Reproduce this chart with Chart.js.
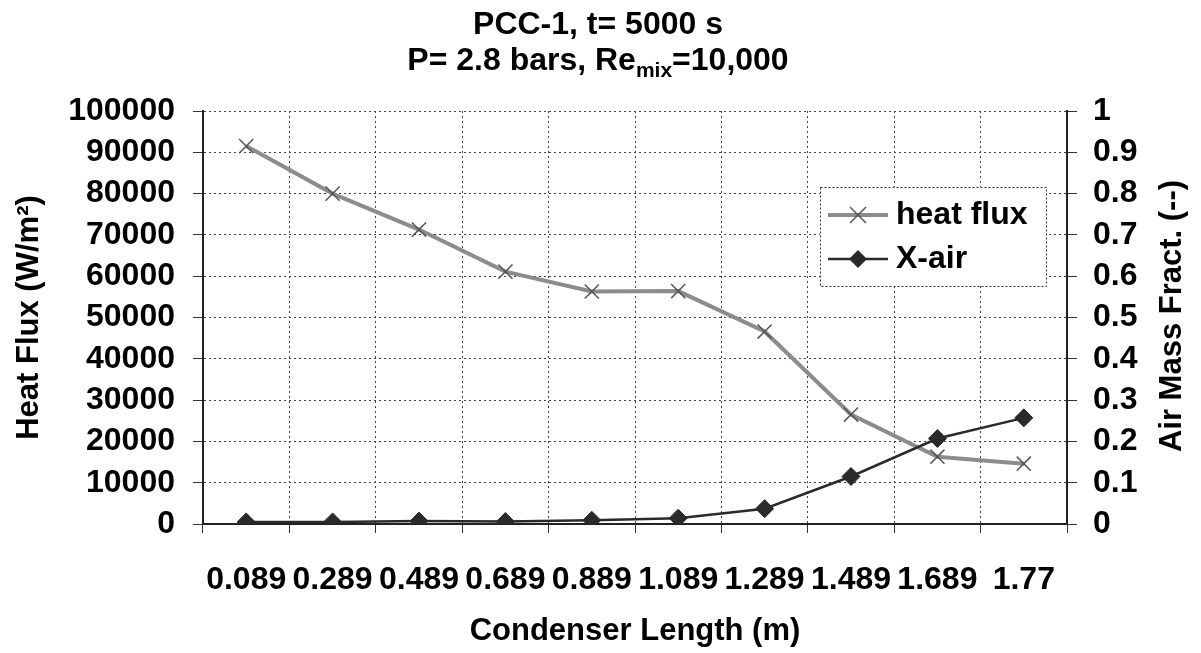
<!DOCTYPE html>
<html>
<head>
<meta charset="utf-8">
<script src="https://cdn.jsdelivr.net/npm/chart.js@4"></script>
<style>
  body { margin: 0; background: #fff; }
  #wrap { width: 1201px; height: 653px; position: relative; }
</style>
</head>
<body>
<div id="wrap"><canvas id="chart"></canvas></div>
<script>
// data
const lengths = ['0.089', '0.289', '0.489', '0.689', '0.889', '1.089', '1.289', '1.489', '1.689', '1.77'];
const heatFlux = [91500, 80000, 71300, 61100, 56300, 56400, 46600, 26500, 16300, 14600];
const xAir = [0.005, 0.005, 0.007, 0.006, 0.009, 0.014, 0.037, 0.115, 0.207, 0.257];

const titleLine1 = 'PCC-1, t= 5000 s';
const titleLine2 = ['P= 2.8 bars, Re', 'mix', '=10,000'];
const leftTitle = 'Heat Flux (W/m\u00b2)';
const rightTitle = 'Air Mass Fract. (--)';
const xTitle = 'Condenser Length (m)';

const FONT = '"Liberation Sans", Arial, sans-serif';
const FLUX_COLOR = '#8c8c8c';
const AIR_COLOR = '#2a2a2a';

// small helpers for the legend markers
function drawCross(ctx, x, y, r, color) {
    ctx.save();
    ctx.strokeStyle = color;
    ctx.lineWidth = 1.5;
    ctx.beginPath();
    ctx.moveTo(x - r, y - r); ctx.lineTo(x + r, y + r);
    ctx.moveTo(x + r, y - r); ctx.lineTo(x - r, y + r);
    ctx.stroke();
    ctx.restore();
}
function drawDiamond(ctx, x, y, r, color) {
    ctx.save();
    ctx.fillStyle = color;
    ctx.beginPath();
    ctx.moveTo(x, y - r); ctx.lineTo(x + r, y); ctx.lineTo(x, y + r); ctx.lineTo(x - r, y);
    ctx.closePath();
    ctx.fill();
    ctx.restore();
}

const extras = {
    id: 'extras',
    beforeDraw(chart) {
        const c = chart.ctx;
        c.save();
        c.fillStyle = '#fff';
        c.fillRect(0, 0, chart.width, chart.height);
        c.restore();
    },
    afterDraw(chart) {
        const c = chart.ctx;
        c.save();
        c.fillStyle = '#000';
        c.textBaseline = 'middle';

        // title, two lines, second one with subscript
        c.font = 'bold 32px ' + FONT;
        c.textAlign = 'center';
        c.fillText(titleLine1, 598, 25);

        const big = 'bold 32px ' + FONT, small = 'bold 21px ' + FONT;
        c.font = big; const w1 = c.measureText(titleLine2[0]).width;
        c.font = small; const w2 = c.measureText(titleLine2[1]).width;
        c.font = big; const w3 = c.measureText(titleLine2[2]).width;
        let x = 598 - (w1 + w2 + w3) / 2;
        c.textAlign = 'left';
        c.font = big; c.fillText(titleLine2[0], x, 61); x += w1;
        c.font = small; c.fillText(titleLine2[1], x, 71); x += w2;
        c.font = big; c.fillText(titleLine2[2], x, 61);

        // right axis title, reads bottom to top
        c.save();
        c.translate(1172, 316);
        c.rotate(-Math.PI / 2);
        c.textAlign = 'center';
        c.font = 'bold 31px ' + FONT;
        c.fillText(rightTitle, 0, 0);
        c.restore();

        // legend box inside the plot
        const ds = chart.data.datasets;
        c.fillStyle = '#fff';
        c.fillRect(820, 187, 226, 99);
        c.strokeStyle = '#333';
        c.lineWidth = 1;
        c.setLineDash([2, 2]);
        c.strokeRect(820.5, 187.5, 226, 99);
        c.setLineDash([]);

        const rows = [215, 259];
        c.lineWidth = 4; c.strokeStyle = FLUX_COLOR;
        c.beginPath(); c.moveTo(828, rows[0]); c.lineTo(888, rows[0]); c.stroke();
        drawCross(c, 858, rows[0], 8, '#555');
        c.lineWidth = 2.5; c.strokeStyle = AIR_COLOR;
        c.beginPath(); c.moveTo(828, rows[1]); c.lineTo(888, rows[1]); c.stroke();
        drawDiamond(c, 858, rows[1], 9, AIR_COLOR);

        c.fillStyle = '#000';
        c.textAlign = 'left';
        c.font = 'bold 32px ' + FONT;
        c.fillText(ds[0].label, 896, rows[0]);
        c.fillText(ds[1].label, 896, rows[1]);
        c.restore();
    }
};

const ctx = document.getElementById('chart').getContext('2d');
new Chart(ctx, {
    type: 'line',
    data: {
        labels: lengths,
        datasets: [{
            label: 'heat flux',
            data: heatFlux,
            yAxisID: 'y',
            borderColor: FLUX_COLOR,
            borderWidth: 4,
            pointStyle: 'crossRot',
            pointRadius: 10,
            pointBorderColor: '#555',
            pointBorderWidth: 1.5,
            tension: 0,
            order: 2
        }, {
            label: 'X-air',
            data: xAir,
            yAxisID: 'y1',
            borderColor: AIR_COLOR,
            borderWidth: 2.5,
            pointStyle: 'rectRot',
            pointRadius: 9,
            pointBackgroundColor: AIR_COLOR,
            pointBorderColor: AIR_COLOR,
            pointBorderWidth: 1,
            tension: 0,
            order: 1
        }]
    },
    options: {
        responsive: true,
        maintainAspectRatio: false,
        animation: false,
        layout: { padding: { top: 111, left: 0, right: 0, bottom: 0 } },
        plugins: {
            legend: { display: false },
            tooltip: { enabled: false }
        },
        scales: {
            x: {
                offset: true,
                grid: { offset: true, color: '#444', lineWidth: 1, tickLength: 9, tickColor: '#333' },
                border: { display: true, color: '#222', width: 2, dash: [2, 3] },
                ticks: {
                    autoSkip: false, maxRotation: 0, minRotation: 0, padding: 28,
                    color: '#000', font: { family: FONT, size: 32, weight: 'bold' }
                },
                title: {
                    display: true, text: xTitle, color: '#000',
                    font: { family: FONT, size: 31, weight: 'bold' },
                    padding: { top: 0, bottom: 3 }
                },
                afterFit(scale) { scale.height = 129; }
            },
            y: {
                position: 'left',
                min: 0, max: 100000,
                grid: { color: '#444', lineWidth: 1, tickLength: 10, tickColor: '#333' },
                border: { display: true, color: '#222', width: 2, dash: [2, 3] },
                ticks: {
                    stepSize: 10000, autoSkip: false, padding: 18, color: '#000',
                    font: { family: FONT, size: 32, weight: 'bold' },
                    callback: v => String(v)
                },
                title: {
                    display: true, text: leftTitle, color: '#000',
                    font: { family: FONT, size: 31, weight: 'bold' },
                    padding: { top: 11, bottom: 0 }
                },
                afterFit(scale) { scale.width = 203; }
            },
            y1: {
                position: 'right',
                min: 0, max: 1,
                grid: { drawOnChartArea: false, tickLength: 10, tickColor: '#333' },
                border: { display: true, color: '#222', width: 2 },
                ticks: {
                    stepSize: 0.1, autoSkip: false, padding: 16, color: '#000',
                    font: { family: FONT, size: 32, weight: 'bold' },
                    callback: v => String(Math.round(v * 10) / 10)
                },
                afterFit(scale) { scale.width = 134; }
            }
        }
    },
    plugins: [extras]
});
</script>
</body>
</html>
